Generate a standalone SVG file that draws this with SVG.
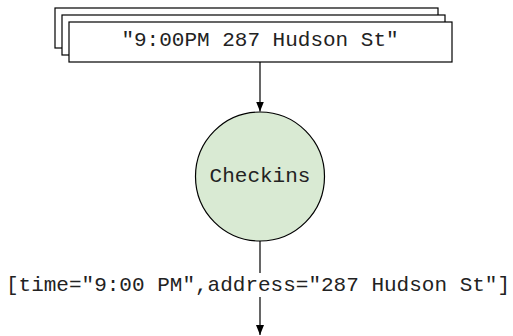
<svg xmlns="http://www.w3.org/2000/svg" width="513" height="336" viewBox="0 0 513 336">
<style>
.box{fill:#fff;stroke:#000;stroke-width:1.2}
.t{font-family:"Liberation Mono","Courier New",monospace;font-size:21px;fill:#222;text-anchor:middle}
.edge{stroke:#000;stroke-width:1.2;fill:none}
</style>
<defs>
<marker id="arr" viewBox="0 0 10 8" refX="10" refY="4" markerWidth="10" markerHeight="8" markerUnits="userSpaceOnUse" orient="auto">
<path d="M0,0 L10,4 L0,8 Z" fill="#000"/>
</marker>
</defs>
<rect width="513" height="336" fill="#fff"/>
<g id="input">
<rect class="box" x="55" y="8" width="383" height="40"/>
<rect class="box" x="62" y="15" width="383" height="40"/>
<rect class="box" x="69" y="22" width="383" height="40"/>
<text class="t" x="260" y="46">"9:00PM 287 Hudson St"</text>
</g>
<g id="checkins">
<circle cx="260" cy="176.5" r="64.5" fill="#d9ead3" stroke="#000" stroke-width="1.2"/>
<text class="t" x="260" y="182">Checkins</text>
</g>
<g id="connectors">
<line class="edge" x1="260" y1="62" x2="260" y2="111.5" marker-end="url(#arr)"/>
<line class="edge" x1="260" y1="241" x2="260" y2="335" marker-end="url(#arr)"/>
<rect x="6" y="273" width="504" height="24" fill="#fff"/>
<text class="t" x="258" y="290.5">[time="9:00 PM",address="287 Hudson St"]</text>
</g>
</svg>
